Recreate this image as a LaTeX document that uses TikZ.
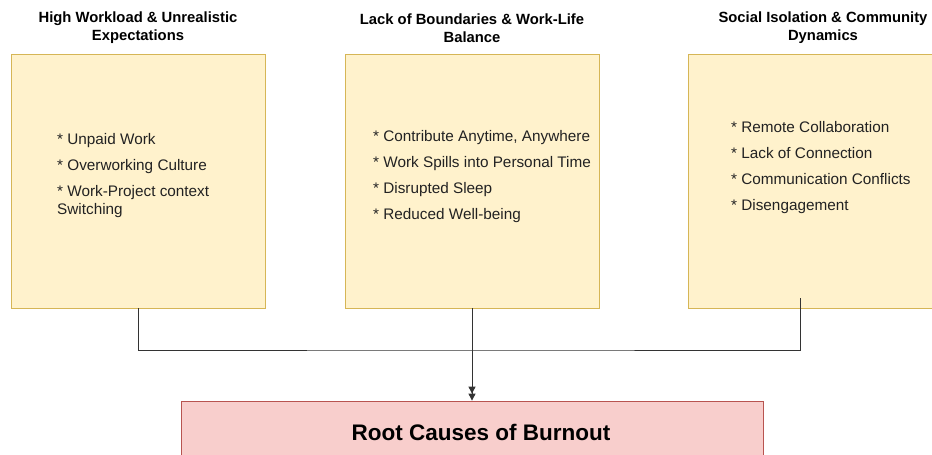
\documentclass[tikz,border=0pt]{standalone}
\usepackage{fontspec}
\setmainfont{Liberation Sans}
\usetikzlibrary{positioning}
\usetikzlibrary{arrows.meta}

\definecolor{notefill}{HTML}{FFF2CC}
\definecolor{notedraw}{HTML}{D6B656}
\definecolor{rootfill}{HTML}{F8CECC}
\definecolor{rootdraw}{HTML}{B85450}
\definecolor{inktext}{HTML}{222222}

\tikzset{
  causebox/.style={rectangle,draw=notedraw,fill=notefill,line width=0.8pt,minimum width=254pt,minimum height=254pt,inner sep=0pt},
  causetitle/.style={align=center,font=\fontsize{14.8}{18}\selectfont\bfseries,text=black},
  causelist/.style={align=left,anchor=west,font=\fontsize{15.3}{18}\selectfont,text=inktext,inner sep=0pt},
  link/.style={draw=black!80,line width=0.9pt},
}

\begin{document}
\begin{tikzpicture}[x=1pt,y=-1pt]
\useasboundingbox (0,0) rectangle (932,455);

\node[causebox] (boxA) at (138.5,181) {};
\node[causebox] (boxB) at (472,181) {};
\node[causebox,minimum width=250pt] (boxC) at (813,181) {};

\node[causetitle] (titleA) at (138,28) {High Workload \& Unrealistic\\Expectations};
\node[causetitle] (titleB) at (472,28) {Lack of Boundaries \& Work-Life\\Balance};
\node[causetitle] (titleC) at (823,28) {Social Isolation \& Community\\Dynamics};

\node[causelist] (listA) at (57,176) {* Unpaid Work\\[8pt]* Overworking Culture\\[8pt]* Work-Project context\\Switching};
\node[causelist] (listB) at (373,177) {* Contribute Anytime, Anywhere\\[8pt]* Work Spills into Personal Time\\[8pt]* Disrupted Sleep\\[8pt]* Reduced Well-being};
\node[causelist] (listC) at (731,168) {* Remote Collaboration\\[8pt]* Lack of Connection\\[8pt]* Communication Conflicts\\[8pt]* Disengagement};

\node[rectangle,draw=rootdraw,fill=rootfill,line width=0.8pt,minimum width=582pt,minimum height=62pt,font=\fontsize{22.5}{26}\selectfont\bfseries] (root) at (472,432) {\hspace{18pt}Root Causes of Burnout};

\coordinate (bend) at (472,350);
\coordinate (tailC) at (800,298);
\draw[link] (boxA.south) |- (bend) -| (tailC);
\draw[link,-{Triangle[length=7pt,width=7pt]Triangle[length=7pt,width=7pt]}] (boxB.south) -- (root.north);

\end{tikzpicture}
\end{document}
